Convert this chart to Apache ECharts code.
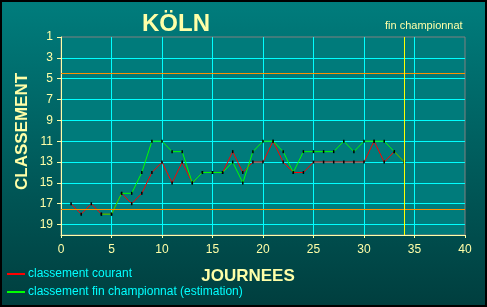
<!DOCTYPE html>
<html><head><meta charset="utf-8">
<script src="https://cdn.jsdelivr.net/npm/echarts@6/dist/echarts.min.js"></script>
<style>html,body{margin:0;padding:0;background:#000}#c{width:487px;height:307px}</style>
</head><body><div id="c"></div>
<script>
const journees = [1,2,3,4,5,6,7,8,9,10,11,12,13,14,15,16,17,18,19,20,21,22,23,24,25,26,27,28,29,30,31,32,33,34];
const classementCourant = [17,18,17,18,18,16,17,16,14,13,15,13,15,14,14,14,12,14,13,13,11,13,14,14,13,13,13,13,13,13,11,13,12,13];
const classementFin = [null,null,null,18,18,16,16,14,11,11,12,12,15,14,14,14,13,15,12,11,11,12,14,12,12,12,12,11,12,11,11,11,12,13];
const xTicks = [0,5,10,15,20,25,30,35,40];
const yTicks = [1,3,5,7,9,11,13,15,17,19];
const finJournee = 34;
const zoneLines = [4.5, 17.5];
const seriesNames = ['classement courant', 'classement fin championnat (estimation)'];
const seriesColors = ['#ff0000', '#00ff00'];

const cream = '#ffffa8';
const pair = (ys) => journees.map((j,i) => [j, ys[i]]);
const chart = echarts.init(document.getElementById('c'), null, {renderer:'canvas'});
const legendGraphics = [];
seriesNames.forEach((n, i) => {
  const y = 274 + i * 18;
  legendGraphics.push({type:'line', shape:{x1:7, y1:y, x2:25, y2:y}, style:{stroke:seriesColors[i], lineWidth:2}, silent:true});
  legendGraphics.push({type:'text', x:28, y:y, style:{text:n, fill:'#00ffff', font:'12px "Liberation Sans"', textVerticalAlign:'middle', verticalAlign:'middle'}, silent:true});
});
chart.setOption({
  animation:false,
  backgroundColor:{type:'linear',x:0,y:0,x2:0,y2:1,colorStops:[{offset:0,color:'#007d7d'},{offset:1,color:'#003e3e'}]},
  textStyle:{fontFamily:'Liberation Sans'},
  title:[
    {text:'KÖLN', left:176, top:12, padding:0, textAlign:'center', textStyle:{color:cream, fontSize:24, fontWeight:'bold', fontFamily:'Liberation Sans'}},
    {text:'fin championnat', left:385, top:20, padding:0, textStyle:{color:cream, fontSize:11, fontWeight:'normal', fontFamily:'Liberation Sans'}},
    {text:'JOURNEES', left:248, top:268, padding:0, textAlign:'center', textStyle:{color:cream, fontSize:17, fontWeight:'bold', fontFamily:'Liberation Sans'}}
  ],
  graphic:[
    {type:'text', rotation:Math.PI/2, style:{text:'CLASSEMENT', fill:cream, font:'bold 17px "Liberation Sans"'}, x:14, y:190},
    ...legendGraphics,
    {type:'rect', shape:{x:1,y:1,width:485,height:305}, style:{fill:null, stroke:'#000', lineWidth:2}, silent:true, z:100}
  ],
  grid:{left:61, right:22, top:37, bottom:72, show:true, backgroundColor:'#007b7b', borderColor:'#808080', borderWidth:1},
  xAxis:{
    type:'value', min:xTicks[0], max:xTicks[xTicks.length-1], interval:5,
    axisLine:{lineStyle:{color:cream, width:1}},
    axisTick:{show:true, length:3, lineStyle:{color:cream}},
    axisLabel:{color:cream, fontSize:12, margin:9, fontFamily:'Liberation Sans'},
    splitLine:{show:true, showMinLine:false, showMaxLine:false, lineStyle:{color:'#00ffff', width:1}}
  },
  yAxis:{
    type:'value', inverse:true, min:yTicks[0], max:20, interval:2,
    axisLine:{show:true, lineStyle:{color:cream, width:1}},
    axisTick:{show:true, length:4, lineStyle:{color:cream}},
    axisLabel:{color:cream, fontSize:12, margin:8, showMaxLabel:false, fontFamily:'Liberation Sans',
      formatter:(v)=> yTicks.indexOf(v) >= 0 ? String(v) : ''},
    splitLine:{show:true, showMinLine:false, lineStyle:{color:'#00ffff', width:1}}
  },
  series:[
    {type:'line', name:'zones', data:[], z:1, silent:true,
      markLine:{silent:true, symbol:['none','none'], label:{show:false},
        data:[
          {yAxis:zoneLines[0], lineStyle:{color:'#ff9000', type:'solid', width:1}},
          {yAxis:zoneLines[1], lineStyle:{color:'#ff9000', type:'solid', width:1}},
          {xAxis:finJournee, lineStyle:{color:'#ffff00', type:'solid', width:1}}
        ]}},
    {type:'line', name:seriesNames[0], data:pair(classementCourant), z:3,
      lineStyle:{color:seriesColors[0], width:1}, symbol:'rect', symbolSize:[1.5,3], itemStyle:{color:'#000'}, showSymbol:true},
    {type:'line', name:seriesNames[1], data:pair(classementFin), z:4, connectNulls:false,
      lineStyle:{color:seriesColors[1], width:1}, symbol:'rect', symbolSize:[1.5,3], itemStyle:{color:'#000'}, showSymbol:true}
  ]
});
</script></body></html>
